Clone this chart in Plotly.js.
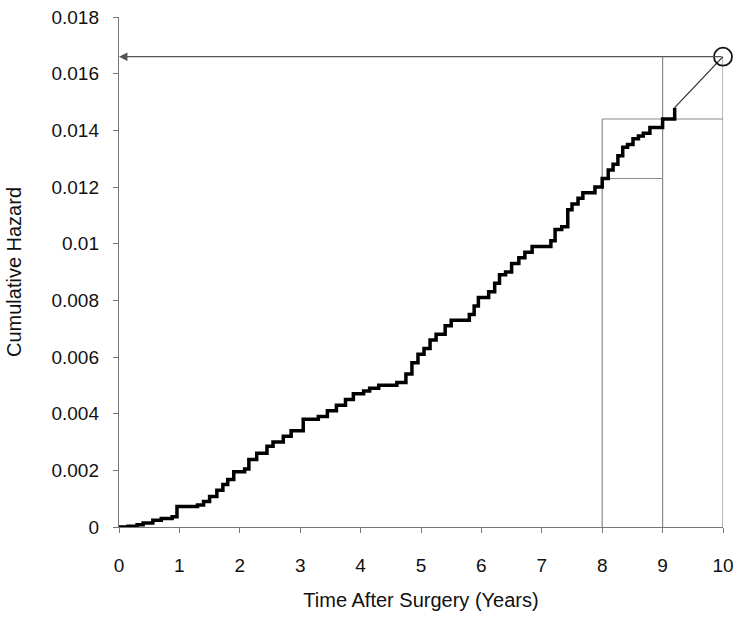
<!DOCTYPE html>
<html>
<head>
<meta charset="utf-8">
<script src="https://cdn.plot.ly/plotly-3.0.1.min.js"></script>
<style>
  html, body { margin: 0; padding: 0; background: #fff; }
  #chart { width: 746px; height: 624px; }
</style>
</head>
<body>
<div id="chart"></div>
<script>
// cumulative hazard step curve
var years = [0, 0.15, 0.3, 0.4, 0.56, 0.7, 0.88, 0.96, 1.3, 1.4, 1.5, 1.62, 1.72, 1.8, 1.9,
    2.08, 2.15, 2.28, 2.45, 2.55, 2.72, 2.85, 3.05, 3.3, 3.45, 3.6, 3.75, 3.88, 4.05, 4.15,
    4.3, 4.6, 4.75, 4.85, 4.95, 5.05, 5.15, 5.25, 5.4, 5.5, 5.8, 5.88, 5.95, 6.12, 6.22, 6.3,
    6.4, 6.5, 6.62, 6.72, 6.84, 7.15, 7.22, 7.33, 7.43, 7.5, 7.6, 7.68, 7.88, 8.0, 8.1,
    8.18, 8.26, 8.34, 8.42, 8.51, 8.6, 8.68, 8.79, 9.0, 9.2];
var hazard = [0, 0.00003, 0.00008, 0.00014, 0.00024, 0.0003, 0.00036, 0.00072, 0.00078, 0.0009, 0.00108, 0.0013, 0.0015, 0.00168, 0.00195,
    0.00205, 0.00238, 0.0026, 0.00285, 0.003, 0.0032, 0.0034, 0.0038, 0.0039, 0.0041, 0.0043, 0.0045, 0.0047, 0.0048, 0.0049,
    0.005, 0.0051, 0.0054, 0.0058, 0.0061, 0.0063, 0.0066, 0.0068, 0.0071, 0.0073, 0.0075, 0.0078, 0.0081, 0.0083, 0.0086, 0.0089,
    0.009, 0.0093, 0.0095, 0.0097, 0.0099, 0.0101, 0.0105, 0.0106, 0.0112, 0.0114, 0.0116, 0.0118, 0.012, 0.0123, 0.0126,
    0.0128, 0.0131, 0.0134, 0.0135, 0.0137, 0.0138, 0.0139, 0.0141, 0.0144, 0.0148];

// extrapolated point at 10 years
var predYear = 10;
var predHazard = 0.0166;

// guide lines
var guideYears = [8, 9, 10];
var guideLevels = [0.0123, 0.0144];

var xTicks = [0, 1, 2, 3, 4, 5, 6, 7, 8, 9, 10];
var yTicks = [0, 0.002, 0.004, 0.006, 0.008, 0.01, 0.012, 0.014, 0.016, 0.018];
var yTickText = ['0', '0.002', '0.004', '0.006', '0.008', '0.01', '0.012', '0.014', '0.016', '0.018'];

var guideColor = '#8a8a8a';
var lastYear = years[years.length - 1];
var lastHazard = hazard[hazard.length - 1];

var data = [
    {
        x: years,
        y: hazard,
        type: 'scatter',
        mode: 'lines',
        line: {shape: 'hv', color: '#000', width: 3.5},
        hoverinfo: 'skip'
    },
    {
        x: [lastYear, predYear],
        y: [lastHazard, predHazard],
        type: 'scatter',
        mode: 'lines',
        line: {color: '#333', width: 1.3},
        hoverinfo: 'skip'
    },
    {
        x: [predYear],
        y: [predHazard],
        type: 'scatter',
        mode: 'markers',
        marker: {symbol: 'circle-open', size: 18, color: '#111', line: {width: 1.8}},
        cliponaxis: false,
        hoverinfo: 'skip'
    }
];

var shapes = [
    // verticals at 8, 9, 10
    {type: 'line', x0: guideYears[0], x1: guideYears[0], y0: 0, y1: guideLevels[1]},
    {type: 'line', x0: guideYears[1], x1: guideYears[1], y0: 0, y1: predHazard},
    {type: 'line', x0: guideYears[2], x1: guideYears[2], y0: 0, y1: predHazard},
    // horizontals
    {type: 'line', x0: guideYears[0], x1: guideYears[1], y0: guideLevels[0], y1: guideLevels[0]},
    {type: 'line', x0: guideYears[0], x1: guideYears[2], y0: guideLevels[1], y1: guideLevels[1]}
].map(function (s) {
    s.xref = 'x';
    s.yref = 'y';
    s.line = {color: guideColor, width: 1.2};
    s.layer = 'below';
    return s;
});

var layout = {
    width: 746,
    height: 624,
    margin: {l: 119, r: 23, t: 17, b: 97},
    paper_bgcolor: '#fff',
    plot_bgcolor: '#fff',
    showlegend: false,
    font: {family: 'Liberation Sans, Arial, sans-serif', color: '#111', size: 19},
    xaxis: {
        range: [0, 10],
        tickvals: xTicks,
        ticks: 'outside',
        ticklen: 5,
        tickcolor: '#777',
        ticklabelstandoff: 16,
        showgrid: false,
        zeroline: false,
        showline: true,
        linecolor: '#777',
        linewidth: 1.2,
        tickfont: {size: 19},
        title: {text: 'Time After Surgery (Years)', font: {size: 20}, standoff: 18}
    },
    yaxis: {
        range: [0, 0.018],
        tickvals: yTicks,
        ticktext: yTickText,
        ticks: 'outside',
        ticklen: 5,
        tickcolor: '#777',
        ticklabelstandoff: 10,
        showgrid: false,
        zeroline: false,
        showline: true,
        linecolor: '#777',
        linewidth: 1.2,
        tickfont: {size: 19},
        title: {text: 'Cumulative Hazard', font: {size: 20}, standoff: 24}
    },
    shapes: shapes,
    annotations: [
        {
            x: 0, y: predHazard,
            ax: predYear, ay: predHazard,
            xref: 'x', yref: 'y', axref: 'x', ayref: 'y',
            text: '',
            showarrow: true,
            arrowhead: 2,
            arrowsize: 1.3,
            arrowwidth: 1.3,
            arrowcolor: '#555'
        }
    ]
};

Plotly.newPlot('chart', data, layout, {displayModeBar: false, staticPlot: true});
</script>
</body>
</html>
